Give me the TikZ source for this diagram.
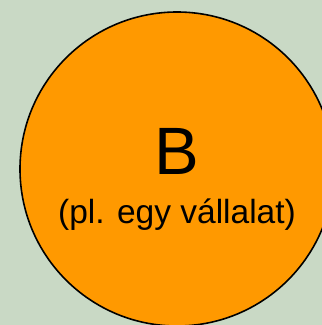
\documentclass[tikz,border=0pt]{standalone}
\usepackage{fontspec}
\setmainfont{Liberation Sans}
\usetikzlibrary{
    positioning % For relative placement
}

\definecolor{bgreen}{RGB}{201,217,197}
\definecolor{firmorange}{RGB}{255,153,0}

\begin{document}
\begin{tikzpicture}[
    x=1pt, y=1pt,
    firm/.style={circle, draw=black, line width=1.6pt, fill=firmorange,
        minimum size=314pt, inner sep=0pt}, % Style for the big circle
    bigletter/.style={font=\fontsize{67}{67}\selectfont, anchor=base}, % Letter B
    smalltext/.style={font=\fontsize{33.5}{34}\selectfont, anchor=base} % Text below
]

    % Background and fixed frame
    \useasboundingbox (0,0) rectangle (322,325);
    \fill[bgreen] (0,0) rectangle (322,325);
    \clip (0,0) rectangle (322,325);

    % Circle B
    \node[firm] (circB) at (177,156) {};

    % Labels
    \node[bigletter] (labB) at (177,150) {B};
    \node[smalltext] (labEx) at (177,102) {(pl. egy vállalat)};

\end{tikzpicture}
\end{document}
